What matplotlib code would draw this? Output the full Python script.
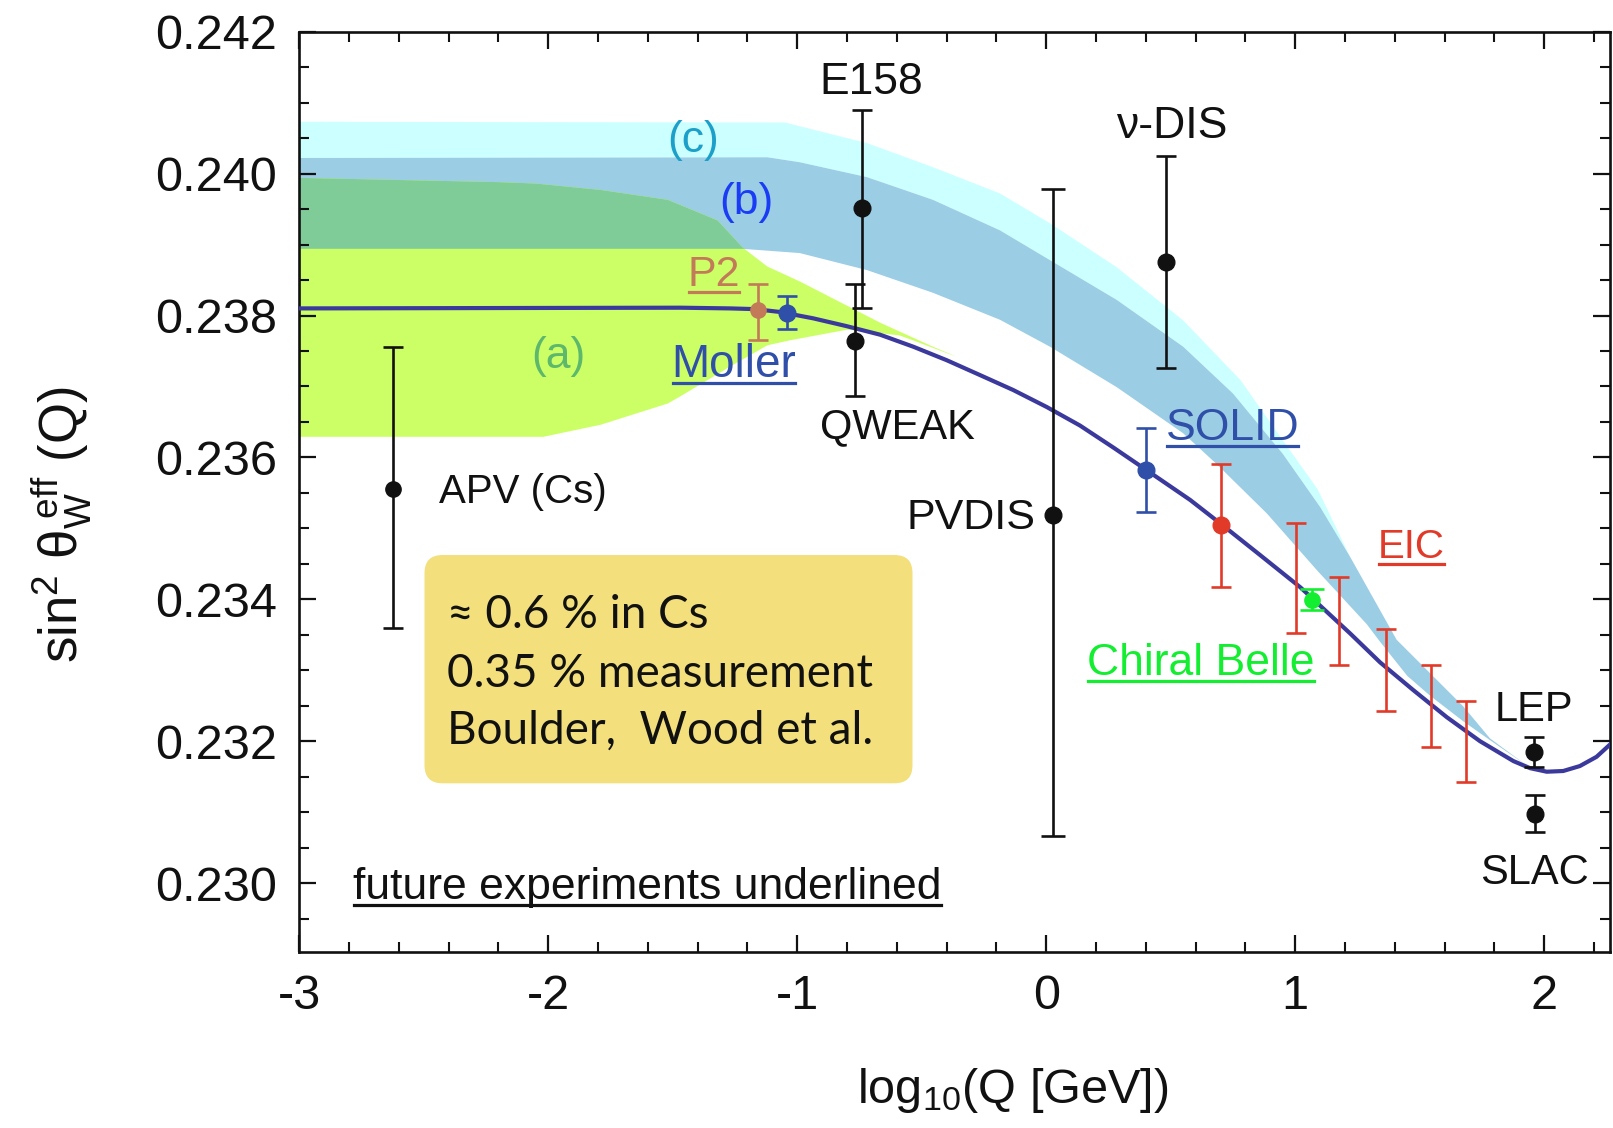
import numpy as np
import matplotlib
matplotlib.use('Agg')
import matplotlib.pyplot as plt
from matplotlib.patches import FancyBboxPatch
from matplotlib.transforms import IdentityTransform
from matplotlib.lines import Line2D
from matplotlib.ticker import MultipleLocator, FormatStrFormatter

plt.rcParams['font.family'] = ['Liberation Sans', 'DejaVu Sans']
plt.rcParams['mathtext.fontset'] = 'custom'
plt.rcParams['mathtext.rm'] = 'Liberation Sans'
plt.rcParams['mathtext.it'] = 'Liberation Sans:italic'
plt.rcParams['mathtext.bf'] = 'Liberation Sans:bold'
plt.rcParams['axes.unicode_minus'] = False

# ---------------- data ----------------
# Standard Model running curve
sm_x = [-3.0, -1.47, -1.27, -1.17, -1.07, -0.936, -0.802, -0.668, -0.534, -0.400, -0.266,
        -0.133, 0.002, 0.135, 0.269, 0.403, 0.578, 0.706, 0.86, 1.02, 1.22, 1.341,
        1.474, 1.608, 1.742, 1.876, 1.943, 2.010, 2.076, 2.143, 2.210, 2.263]
sm_y = [0.23810, 0.23811, 0.23810, 0.23809, 0.23805, 0.23796, 0.23785, 0.23773, 0.23756,
        0.23737, 0.23716, 0.23695, 0.23671, 0.23645, 0.23614, 0.23582, 0.23540, 0.23505,
        0.23462, 0.23417, 0.23352, 0.23311, 0.23272, 0.23234, 0.23200, 0.23172, 0.23162,
        0.23157, 0.23158, 0.23165, 0.23178, 0.23195]

# band (a)
a_up_x = [-3.0, -2.2, -2.05, -1.79, -1.52, -1.32, -1.22, -1.12, -0.99, -0.79, -0.668,
          -0.455, -0.36]
a_up_y = [0.23994, 0.23988, 0.23986, 0.23977, 0.23963, 0.23934, 0.23896, 0.23869,
          0.23848, 0.23812, 0.23790, 0.23756, 0.23742]
a_lo_x = [-3.0, -2.02, -1.79, -1.52, -1.47, -1.27, -1.12, -1.03, -0.80, -0.59, -0.535,
          -0.40, -0.36]
a_lo_y = [0.23629, 0.23629, 0.23646, 0.23676, 0.23686, 0.23728, 0.23758, 0.23765,
          0.23780, 0.23772, 0.23765, 0.23747, 0.23742]

# band (b)
b_up_x = [-3.0, -1.12, -0.99, -0.72, -0.455, -0.186, 0.015, 0.283, 0.55, 0.75, 0.95,
          1.10, 1.22, 1.407, 1.541, 1.675, 1.782, 1.929]
b_up_y = [0.24022, 0.24023, 0.24016, 0.23995, 0.23963, 0.23920, 0.23878, 0.23822,
          0.23756, 0.23690, 0.23605, 0.23530, 0.23460, 0.23343, 0.23296, 0.23249,
          0.23204, 0.23166]
b_lo_x = [-3.0, -1.22, -0.99, -0.72, -0.455, -0.186, 0.015, 0.283, 0.55, 0.686, 0.886,
          1.087, 1.287, 1.341, 1.45, 1.542, 1.675, 1.78, 1.929]
b_lo_y = [0.23894, 0.23894, 0.23888, 0.23864, 0.23832, 0.23794, 0.23756, 0.23699,
          0.23634, 0.23590, 0.23521, 0.23441, 0.23365, 0.23340, 0.23292, 0.23264,
          0.23228, 0.23202, 0.23166]

# band (c) upper edge (lower edge hidden under band b)
c_up_x = [-3.0, -1.05, -0.72, -0.455, -0.186, 0.015, 0.283, 0.55, 0.78, 0.95, 1.09, 1.22]
c_up_y = [0.24073, 0.24072, 0.24043, 0.24009, 0.23972, 0.23930, 0.23868, 0.23793,
          0.23709, 0.23624, 0.23555, 0.23460]

# measurements (black)
meas_names = ['APV', 'E158', 'PVDIS', 'nuDIS', 'LEP', 'SLAC']
meas_x = [-2.624, -0.741, 0.028, 0.481, 1.960, 1.962]
meas_y = [0.23555, 0.23951, 0.23519, 0.23875, 0.23185, 0.23098]
meas_lo = [0.23360, 0.23810, 0.23066, 0.23726, 0.23164, 0.23072]
meas_hi = [0.23755, 0.24090, 0.23978, 0.24025, 0.23206, 0.23124]

qweak_x, qweak_y, qweak_lo, qweak_hi = -0.768, 0.23764, 0.23686, 0.23844

# future experiments
p2_x, p2_y, p2_lo, p2_hi = -1.157, 0.23808, 0.23765, 0.23844
moller_x, moller_y, moller_lo, moller_hi = -1.040, 0.23804, 0.23781, 0.23828
solid_x, solid_y, solid_lo, solid_hi = 0.400, 0.23582, 0.23523, 0.23642
eic_x, eic_y, eic_lo, eic_hi = 0.700, 0.23505, 0.23418, 0.23590
eic_bar_x = [1.003, 1.177, 1.363, 1.545, 1.684]
eic_bar_lo = [0.23352, 0.23308, 0.23243, 0.23192, 0.23143]
eic_bar_hi = [0.23508, 0.23432, 0.23358, 0.23307, 0.23257]
belle_x, belle_y, belle_lo, belle_hi = 1.066, 0.23399, 0.23385, 0.23414

x_ticks = [-3, -2, -1, 0, 1, 2]
y_ticks = [0.230, 0.232, 0.234, 0.236, 0.238, 0.240, 0.242]

# ---------------- colours ----------------
C_CYAN = '#ccffff'
C_BLUE = '#9bcde4'
C_GREEN = '#80cc98'
C_YELLOW = '#ccff66'
C_SM = '#3b3a9c'
C_BLK = '#111111'
C_P2 = '#c27a58'
C_MOL = '#2f4fa8'
C_EIC = '#e23a28'
C_BEL = '#14ee30'

W, H = 1613, 1128
fig = plt.figure(figsize=(W / 100, H / 100), dpi=100)
ax = fig.add_axes([299.3 / W, (H - 952) / H, 1310.2 / W, 920.3 / H])
ax.set_xlim(-3, 2.262)
ax.set_ylim(0.229029, 0.242)

# bands
cx = list(c_up_x) + [x for x in b_up_x if x <= 1.22][::-1]
cy = list(c_up_y) + [y for x, y in zip(b_up_x, b_up_y) if x <= 1.22][::-1]
ax.fill(cx, cy, color=C_CYAN, lw=0, zorder=1)
bpoly = ax.fill(list(b_up_x) + list(b_lo_x)[::-1], list(b_up_y) + list(b_lo_y)[::-1],
                color=C_BLUE, lw=0, zorder=1.1)[0]
ax.fill(list(a_up_x) + list(a_lo_x)[::-1], list(a_up_y) + list(a_lo_y)[::-1],
        color=C_YELLOW, lw=0, zorder=1.2)
gpoly = ax.fill(list(a_up_x) + list(a_lo_x)[::-1], list(a_up_y) + list(a_lo_y)[::-1],
                color=C_GREEN, lw=0, zorder=1.3)[0]
gpoly.set_clip_path(bpoly)

# SM curve
ax.plot(sm_x, sm_y, color=C_SM, lw=3.0, zorder=3, solid_joinstyle='round')

# text box
box = FancyBboxPatch((424.5, H - 783.3), 488.0, 228.3,
                     boxstyle='round,pad=0,rounding_size=18',
                     transform=IdentityTransform(), facecolor='#f3e07c',
                     edgecolor='none', zorder=2)
ax.add_artist(box)

ekw = dict(lw=1.9, capthick=1.9, zorder=4)


def ebar(x, y, lo, hi, color, cap=7.5, ms=11.5, marker='o', capcolor=None):
    _, caps, bars = ax.errorbar([x], [y], yerr=[[y - lo], [hi - y]], fmt=marker,
                                color=color, ms=ms, capsize=cap, **ekw)
    if capcolor is not None:
        for c in caps:
            c.set_color(capcolor)


for n, x, y, lo, hi in zip(meas_names, meas_x, meas_y, meas_lo, meas_hi):
    cap = 8.5 if n == 'PVDIS' else 7.5
    ebar(x, y, lo, hi, C_BLK, cap=cap, ms=11 if n == 'APV' else 12)
ebar(qweak_x, qweak_y, qweak_lo, qweak_hi, C_BLK, cap=7, ms=12, capcolor=C_MOL)
ebar(p2_x, p2_y, p2_lo, p2_hi, C_P2, cap=7.5, ms=11)
ebar(moller_x, moller_y, moller_lo, moller_hi, C_MOL, cap=7, ms=12)
ebar(solid_x, solid_y, solid_lo, solid_hi, C_MOL, cap=7, ms=12)
ebar(eic_x, eic_y, eic_lo, eic_hi, C_EIC, cap=7, ms=12)
for x, lo, hi in zip(eic_bar_x, eic_bar_lo, eic_bar_hi):
    mid = 0.5 * (lo + hi)
    ebar(x, mid, lo, hi, C_EIC, cap=7, marker='none')
ebar(belle_x, belle_y, belle_lo, belle_hi, C_BEL, cap=8.5, ms=11)

# axes styling
ax.xaxis.set_minor_locator(MultipleLocator(0.2))
ax.yaxis.set_minor_locator(MultipleLocator(0.0005))
ax.yaxis.set_major_formatter(FormatStrFormatter('%.3f'))
ax.set_xticks(x_ticks)
ax.set_yticks(y_ticks)
ax.tick_params(which='both', direction='in', top=True, right=True, color='#111111')
ax.tick_params(which='major', length=12.5, width=1.6, labelsize=35, pad=16,
               labelcolor='#111111')
ax.tick_params(which='minor', length=7.5, width=1.5)
for s in ax.spines.values():
    s.set_linewidth(1.9)
    s.set_color('#111111')

fig.text(1013, H - 1103, r'log$_{\rm 10}$(Q [GeV])', transform=IdentityTransform(),
         ha='center', va='baseline', fontsize=35, color='#111111')
fig.text(78, H - 525, r'sin$^{\rm 2}$ θ$_{\rm W}^{\rm \ eff}$ (Q)', transform=IdentityTransform(),
         ha='center', va='baseline', rotation=90, rotation_mode='anchor',
         fontsize=38, color='#111111')

# labels
labels = []


def lab(x, y, s, color=C_BLK, size=31, ha='center', ul=False, **kw):
    t = ax.text(x, y, s, color=color, fontsize=size, ha=ha, va='baseline', zorder=6, **kw)
    if ul:
        labels.append((t, color))
    return t


lab(-0.703, 0.24112, 'E158', size=32)
lab(0.504, 0.24050, 'ν-DIS', size=32)
lab(-1.418, 0.24031, '(c)', color='#1c9fc9', size=32)
lab(-1.203, 0.23943, '(b)', color='#1a3cf5', size=32)
lab(-1.958, 0.23726, '(a)', color='#5db86c', size=32)
lab(-1.335, 0.23841, 'P2', color=C_P2, size=31, ul=True)
lab(-1.254, 0.23714, 'Moller', color=C_MOL, size=33, ul=True)
lab(-0.598, 0.23627, 'QWEAK', size=30)
lab(0.748, 0.23624, 'SOLID', color=C_MOL, size=32, ul=True)
lab(-2.44, 0.23536, 'APV (Cs)', size=29, ha='left')
lab(-0.042, 0.23499, 'PVDIS', size=31, ha='right')
lab(1.467, 0.23458, 'EIC', color=C_EIC, size=29, ul=True)
lab(0.621, 0.23293, 'Chiral Belle', color=C_BEL, size=32, ul=True)
lab(1.959, 0.23229, 'LEP', size=30)
lab(1.962, 0.22999, 'SLAC', size=30)
lab(-2.784, 0.22977, 'future experiments underlined', size=32, ha='left', ul=True)

# box text
box_lines = ['≈ 0.6 % in Cs', '0.35 % measurement', 'Boulder,  Wood et al.']
for s, yb in zip(box_lines, [H - 628.3, H - 686.7, H - 744.0]):
    fig.text(446.7, yb, s, transform=IdentityTransform(), ha='left', va='baseline',
             fontsize=33, family=['Lato', 'DejaVu Sans'], fontweight='normal',
             color='#111111')

fig.canvas.draw()
r = fig.canvas.get_renderer()
for t, color in labels:
    bb = t.get_window_extent(r)
    xb, yb = t.get_transform().transform(t.get_position())
    fig.add_artist(Line2D([bb.x0 + 1, bb.x1 - 1], [yb - 6, yb - 6],
                          transform=IdentityTransform(), color=color, lw=2.3))

fig.savefig('out.png', dpi=100)
